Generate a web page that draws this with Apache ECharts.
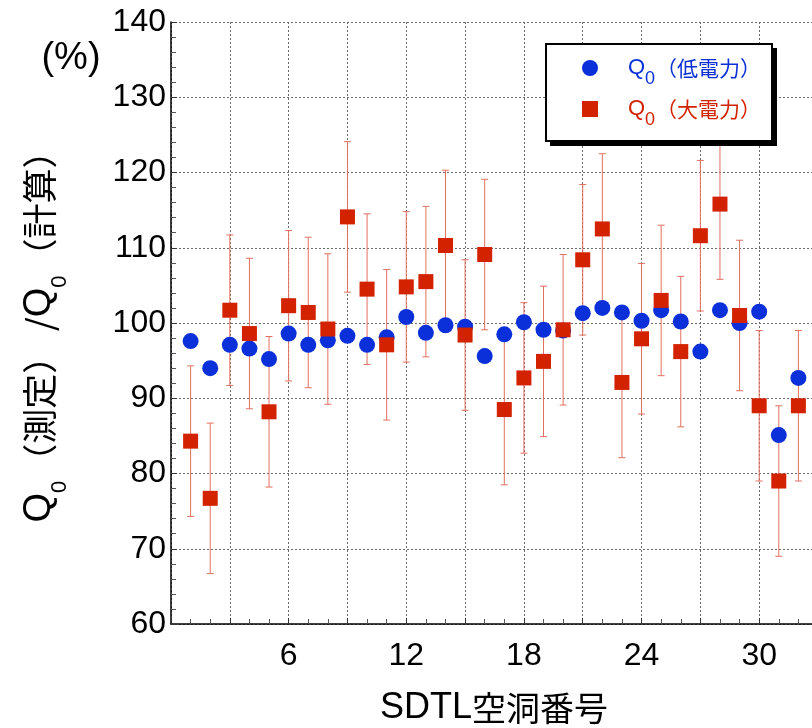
<!DOCTYPE html>
<html>
<head>
<meta charset="utf-8">
<script src="https://cdn.jsdelivr.net/npm/echarts@6/dist/echarts.min.js"></script>
<style>
  html, body { margin: 0; padding: 0; background: #fff; overflow: hidden; }
  #chart { width: 812px; height: 728px; }
</style>
</head>
<body>
<div id="chart"></div>
<script>
// SDTL cavity numbers
const cavities = [1, 2, 3, 4, 5, 6, 7, 8, 9, 10, 11, 12, 13, 14, 15, 16,
                  17, 18, 19, 20, 21, 22, 23, 24, 25, 26, 27, 28, 29, 30, 31, 32];
// Q0 measured / calculated (%), low-power measurement
const lowPower = [97.6, 94.0, 97.1, 96.6, 95.2, 98.6, 97.1, 97.7, 98.3, 97.1, 98.1, 100.8,
                  98.7, 99.7, 99.5, 95.6, 98.5, 100.1, 99.1, 99.0, 101.3, 102.0, 101.4, 100.3,
                  101.7, 100.2, 96.2, 101.7, 100.0, 101.5, 85.1, 92.7];
// Q0 measured / calculated (%), high-power measurement
const highPower = [84.3, 76.7, 101.7, 98.6, 88.2, 102.3, 101.4, 99.2, 114.1, 104.5, 97.1, 104.8,
                   105.5, 110.3, 98.4, 109.1, 88.5, 92.7, 94.9, 99.1, 108.4, 112.5, 92.1, 97.9,
                   103.0, 96.2, 111.6, 115.8, 101.0, 89.0, 79.0, 89.0];
// uncertainty of the high-power values (± %)
const highPowerErr = [10, 10, 10, 10, 10, 10, 10, 10, 10, 10, 10, 10, 10, 10, 10, 10,
                      10, 10, 10, 10, 10, 10, 10, 10, 10, 10, 10, 10, 10, 10, 10, 10];
// tick labels shown on the x axis
const xTickLabels = [6, 12, 18, 24, 30];

const BLUE = '#0b2fd8';
const RED = '#d22200';
const LATIN = '"Liberation Sans", Arial, sans-serif';
const CJK = '"Noto Sans CJK JP", sans-serif';

const lowData = cavities.map((c, i) => [c, lowPower[i]]);
const highData = cavities.map((c, i) => [c, highPower[i]]);
const errData = cavities.map((c, i) => [c, highPower[i] - highPowerErr[i], highPower[i] + highPowerErr[i]]);

const chart = echarts.init(document.getElementById('chart'), null, { renderer: 'canvas' });

const gridLine = { show: true, lineStyle: { color: '#6a6a6a', width: 1, type: [2, 2] } };

// legend label: "Q" with a lowered "0" subscript, then the Japanese caption
function legendRich(color) {
  return {
    q: { fontFamily: LATIN, fontSize: 22, color: color, lineHeight: 30, padding: [0, 0, 0, 25] },
    s: { fontFamily: LATIN, fontSize: 18, color: color, lineHeight: 8, padding: [22, 1, 0, 0] },
    t: { fontFamily: CJK, fontSize: 21, color: color, lineHeight: 30 }
  };
}
const richB = legendRich(BLUE), richR = legendRich(RED);

chart.setOption({
  animation: false,
  backgroundColor: '#fff',
  grid: { left: 171, top: 22, bottom: 104, right: -6, outerBoundsMode: 'none', containLabel: false },
  xAxis: {
    type: 'value', min: 0, max: 33, interval: 3,
    axisLine: { show: true, onZero: false, lineStyle: { color: '#000', width: 1.5 } },
    axisTick: { show: true, inside: true, length: 6, lineStyle: { color: '#333' } },
    minorTick: { show: true, splitNumber: 3, length: 5, lineStyle: { color: '#555' } },
    splitLine: gridLine,
    axisLabel: {
      margin: 16, fontFamily: LATIN, fontSize: 32, color: '#000',
      formatter: v => (xTickLabels.indexOf(v) >= 0 ? String(v) : '')
    }
  },
  yAxis: {
    type: 'value', min: 60, max: 140, interval: 10,
    axisLine: { show: true, onZero: false, lineStyle: { color: '#000', width: 1.5 } },
    axisTick: { show: true, inside: true, length: 6, lineStyle: { color: '#333' } },
    minorTick: { show: true, splitNumber: 5, length: 5, lineStyle: { color: '#555' } },
    splitLine: gridLine,
    axisLabel: { margin: 5, fontFamily: LATIN, fontSize: 32, color: '#000' }
  },
  legend: {
    left: 582, top: 48, orient: 'vertical',
    backgroundColor: 'transparent', borderWidth: 0,
    padding: 0, itemGap: 1, itemWidth: 16, itemHeight: 16, z: 6,
    data: [{ name: '低電力', icon: 'circle' }, { name: '大電力', icon: 'rect' }],
    formatter: name => name === '低電力'
      ? '{qb|Q}{sb|0}{tb|（低電力）}'
      : '{qr|Q}{sr|0}{tr|（大電力）}',
    textStyle: {
      rich: {
        qb: richB.q, sb: richB.s, tb: richB.t,
        qr: richR.q, sr: richR.s, tr: richR.t
      }
    }
  },
  graphic: [
    // legend frame with a hard drop shadow
    {
      type: 'rect', z: 5, silent: true,
      shape: { x: 550, y: 48, width: 227, height: 98 },
      style: { fill: '#000' }
    },
    {
      type: 'rect', z: 5, silent: true,
      shape: { x: 546, y: 44, width: 226, height: 97 },
      style: { fill: '#fff', stroke: '#000', lineWidth: 2 }
    },
    // y-axis title
    {
      type: 'text', x: 40, y: 328, rotation: Math.PI / 2, z: 10,
      style: {
        text: '{q|Q}{s|0}{t|（測定） /}{q|Q}{s|0}{t|（計算）}',
        align: 'center', verticalAlign: 'middle', fill: '#000',
        rich: {
          q: { fontFamily: LATIN, fontSize: 38, lineHeight: 44, fill: '#000' },
          s: { fontFamily: LATIN, fontSize: 22, lineHeight: 4, padding: [40, 2, 0, 0], fill: '#000' },
          t: { fontFamily: CJK, fontSize: 35, lineHeight: 44, fill: '#000' }
        }
      }
    },
    {
      type: 'text', x: 71, y: 59, z: 10,
      style: {
        text: '(%)', align: 'center', verticalAlign: 'middle',
        font: '38px "Liberation Sans", Arial, sans-serif', fill: '#000'
      }
    },
    // x-axis title
    {
      type: 'text', x: 494, y: 708, z: 10,
      style: {
        text: '{l|SDTL}{c|空洞番号}', align: 'center', verticalAlign: 'middle', fill: '#000',
        rich: {
          l: { fontFamily: LATIN, fontSize: 36, fill: '#000' },
          c: { fontFamily: CJK, fontSize: 34, fill: '#000' }
        }
      }
    }
  ],
  series: [
    {
      type: 'custom', name: 'err', z: 1, silent: true,
      data: errData,
      renderItem: function (params, api) {
        const x = api.value(0);
        const lo = api.coord([x, api.value(1)]);
        const hi = api.coord([x, api.value(2)]);
        const cap = 3.5;
        const style = { stroke: '#e2705f', lineWidth: 1, fill: null };
        return {
          type: 'group',
          children: [
            { type: 'line', shape: { x1: lo[0], y1: lo[1], x2: hi[0], y2: hi[1] }, style: style },
            { type: 'line', shape: { x1: lo[0] - cap, y1: lo[1], x2: lo[0] + cap, y2: lo[1] }, style: style },
            { type: 'line', shape: { x1: hi[0] - cap, y1: hi[1], x2: hi[0] + cap, y2: hi[1] }, style: style }
          ]
        };
      }
    },
    {
      type: 'scatter', name: '低電力', z: 2, symbol: 'circle', symbolSize: 16,
      itemStyle: { color: BLUE, opacity: 1 },
      data: lowData
    },
    {
      type: 'scatter', name: '大電力', z: 3, symbol: 'rect', symbolSize: 15,
      itemStyle: { color: RED, opacity: 1 },
      data: highData
    }
  ]
});
</script>
</body>
</html>
